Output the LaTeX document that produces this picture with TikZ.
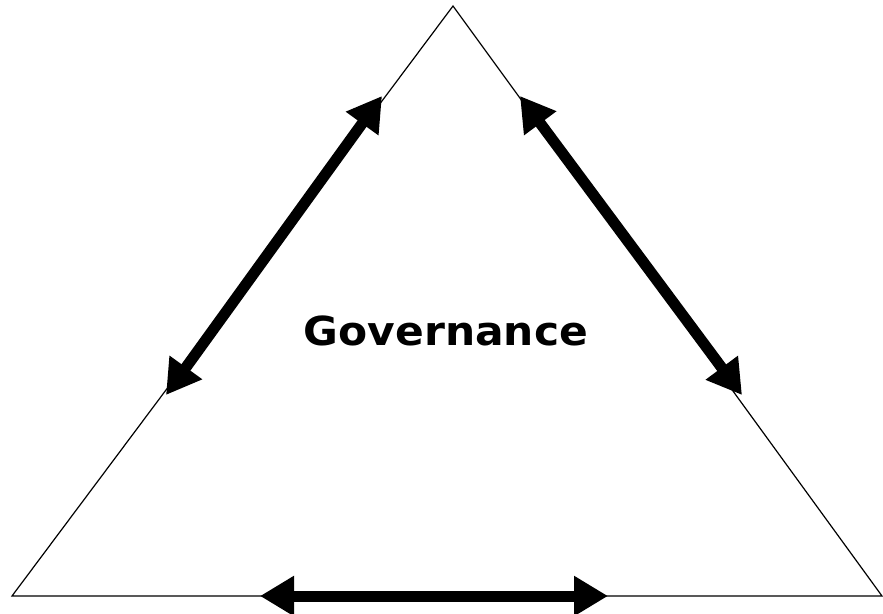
\documentclass[tikz,border=0pt]{standalone}
\usepackage{fontspec}
\setmainfont{DejaVu Sans}
\usetikzlibrary{arrows.meta}
\begin{document}
\begin{tikzpicture}[x=1pt,y=-1pt,
  edge/.style={line width=1.2pt,black},
  dbl/.style={line width=11pt,{Triangle[length=34pt,width=38pt]}-{Triangle[length=34pt,width=38pt]}},
  lbl/.style={font=\fontsize{40}{46}\selectfont\bfseries,inner sep=0pt}]
\useasboundingbox (0,0) rectangle (883,613);
\coordinate (top) at (453,6);
\coordinate (bl) at (12,596);
\coordinate (br) at (882,596);
\draw[edge,line join=miter] (top) -- (bl) -- (br) -- cycle;
\coordinate (l1) at (382,96);
\coordinate (l2) at (166,395);
\coordinate (r1) at (520,96);
\coordinate (r2) at (742,395);
\coordinate (b1) at (260,596);
\coordinate (b2) at (608,596);
\draw[dbl] (l2) -- (l1);
\draw[dbl] (r1) -- (r2);
\draw[dbl] (b1) -- (b2);
\node[lbl,xscale=1.06] (gov) at (446,331) {Governance};
\end{tikzpicture}
\end{document}
